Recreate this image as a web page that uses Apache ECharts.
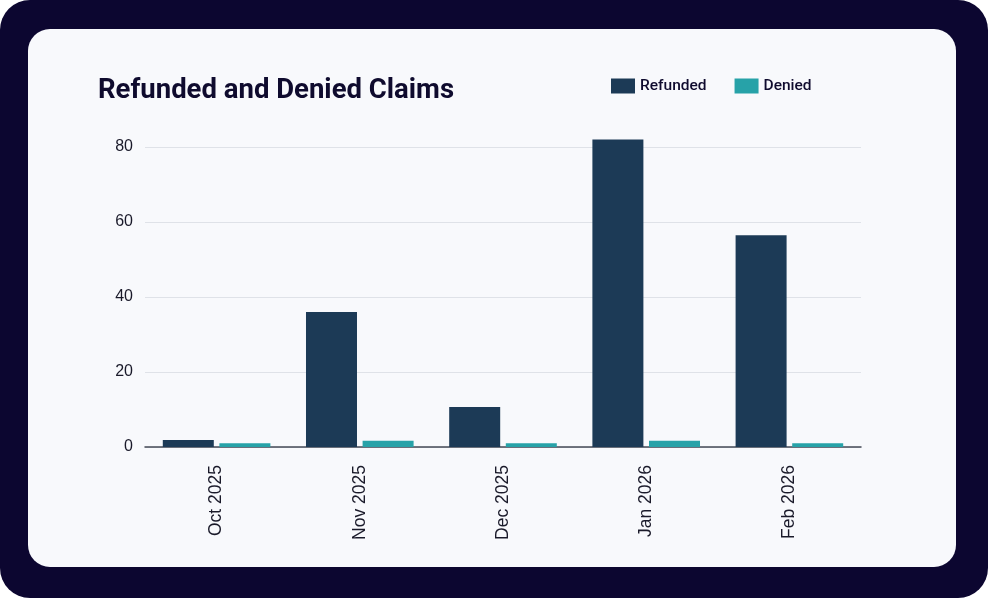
<!DOCTYPE html>
<html>
<head>
<meta charset="utf-8">
<script src="https://cdn.jsdelivr.net/npm/echarts@6/dist/echarts.min.js"></script>
<style>
html,body{margin:0;padding:0;background:#ffffff;}
#frame{position:absolute;left:0;top:0;width:988px;height:598px;background:#0c0630;border-radius:30px;}
#card{position:absolute;left:28px;top:29px;width:928px;height:538px;background:#f8f9fc;border-radius:22px;}
#chart{position:absolute;left:0;top:0;width:988px;height:598px;}
</style>
</head>
<body>
<div id="frame"></div>
<div id="card"></div>
<div id="chart"></div>
<script>
const categories = ['Oct 2025', 'Nov 2025', 'Dec 2025', 'Jan 2026', 'Feb 2026'];
const refunded = [1.9, 36, 10.7, 82, 56.5];
const denied = [1, 1.7, 1, 1.7, 1];
const yTicks = [0, 20, 40, 60, 80];

const chart = echarts.init(document.getElementById('chart'), null, {renderer: 'canvas'});
chart.setOption({
  backgroundColor: 'transparent',
  animation: false,
  title: {
    text: 'Refunded and Denied Claims',
    left: 93, top: 72,
    textStyle: {fontFamily: 'Roboto', fontWeight: 'bold', fontSize: 27.5, color: '#0f0b2e'}
  },
  legend: {
    left: 606, top: 73,
    itemWidth: 24, itemHeight: 15, itemGap: 28,
    icon: 'rect',
    textStyle: {fontFamily: 'Roboto', fontWeight: 500, fontSize: 15.5, color: '#0f0b2e'},
    data: ['Refunded', 'Denied']
  },
  grid: {left: 145, right: 127, top: 147, bottom: 151, containLabel: false},
  xAxis: {
    type: 'category',
    data: categories,
    axisLine: {show: true, lineStyle: {color: '#444a55', width: 1.5}},
    axisTick: {show: false},
    axisLabel: {rotate: 90, margin: 18, fontFamily: 'Liberation Sans', fontSize: 17.5, color: '#1a1a2a'}
  },
  yAxis: {
    type: 'value',
    min: yTicks[0], max: yTicks[yTicks.length - 1], interval: 20,
    axisLine: {show: false},
    axisTick: {show: false},
    splitLine: {lineStyle: {color: '#dfe2e8', width: 1}},
    axisLabel: {margin: 12, fontFamily: 'Liberation Sans', fontSize: 16, color: '#1a1a2a'}
  },
  series: [
    {name: 'Refunded', type: 'bar', data: refunded, clip: false, barWidth: 51, barGap: '11%',
     itemStyle: {color: '#1c3a56'}},
    {name: 'Denied', type: 'bar', data: denied, clip: false, barWidth: 51, barGap: '11%',
     itemStyle: {color: '#27a2a8'}}
  ]
});
</script>
</body>
</html>
